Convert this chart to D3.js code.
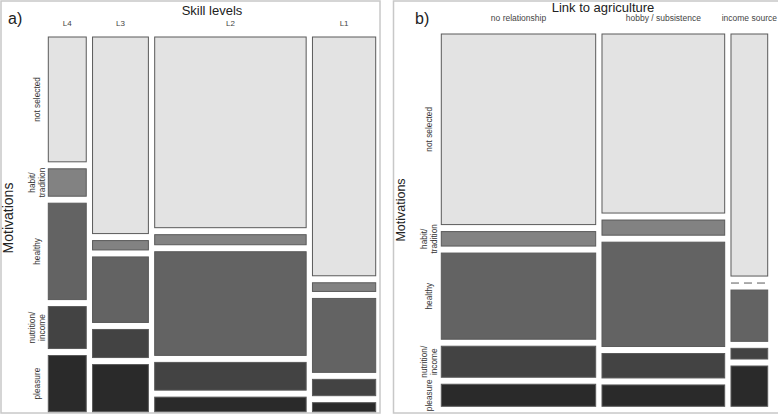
<!DOCTYPE html>
<html>
<head>
<meta charset="utf-8">
<script src="https://d3js.org/d3.v7.min.js"></script>
<style>
  body { margin: 0; background: #fff; }
  svg text { font-family: "Liberation Sans", Arial, sans-serif; fill: #222; }
  .cell { stroke: #5a5a5a; stroke-width: 1px; }
  .frame { fill: none; stroke: #c8c8c8; stroke-width: 1.5px; }
</style>
</head>
<body>
<svg id="chart" width="778" height="415"></svg>
<script>

// ---- data (shares, % within each column) ----
const motivations = ["not selected", "habit/ tradition", "healthy", "nutrition/ income", "pleasure"];
const fills = ["#e3e3e3", "#828282", "#636363", "#434343", "#2a2a2a"];

const skillLevels = ["L4", "L3", "L2", "L1"];
const skillWidths = [12.3, 18.1, 49.1, 20.5];       // share of respondents per level
const skillShares = [
  [36.0, 7.9, 27.8, 12.1, 16.2],   // L4
  [56.7, 2.7, 18.9, 8.1, 13.6],    // L3
  [55.0, 2.9, 29.9, 8.0, 4.2],     // L2
  [68.8, 2.5, 21.3, 4.7, 2.6]      // L1
];

const linkGroups = ["no relationship", "hobby / subsistence", "income source"];
const linkWidths = [49.2, 39.1, 11.7];
const linkShares = [
  [55.3, 4.2, 25.0, 9.0, 6.4],     // no relationship
  [52.0, 4.4, 30.3, 7.1, 6.2],     // hobby / subsistence
  [70.3, 0.0, 14.9, 3.1, 11.7]     // income source
];

const svg = d3.select("#chart");

// frames round the two panels
svg.append("rect").attr("class", "frame").attr("x", 1).attr("y", 1).attr("width", 379).attr("height", 412);
svg.append("rect").attr("class", "frame").attr("x", 393.5).attr("y", 1).attr("width", 400).attr("height", 412);

const drawMosaic = (cfg) => {
  const g = svg.append("g");
  const gapX = 6.3, gapY = 7;
  const nCol = cfg.cols.length, nRow = motivations.length;
  const contentW = (cfg.x1 - cfg.x0) - (nCol - 1) * gapX;
  const contentH = (cfg.y1 - cfg.y0) - (nRow - 1) * gapY;

  const xScale = d3.scaleLinear().domain([0, d3.sum(cfg.widths)]).range([0, contentW]);
  const yScale = d3.scaleLinear().domain([0, 100]).range([0, contentH]);

  let cumX = 0;
  let firstRowCenters = [];
  cfg.cols.forEach((col, i) => {
    const left = cfg.x0 + xScale(cumX) + i * gapX;
    const w = xScale(cfg.widths[i]);
    cumX += cfg.widths[i];

    // column label
    g.append("text").attr("x", left + w / 2).attr("y", cfg.colLabelY)
      .attr("text-anchor", "middle").style("font-size", cfg.colFont + "px").style("fill", "#444")
      .text(col);

    const vals = cfg.values[i];
    const tot = d3.sum(vals);
    let cumY = 0;
    vals.forEach((v, j) => {
      const top = cfg.y0 + yScale(cumY / tot * 100) + j * gapY;
      const h = yScale(v / tot * 100);
      cumY += v;
      if (i === 0) firstRowCenters.push(top + h / 2);
      if (v === 0) {
        // empty cell -> dashed line
        g.append("line").attr("x1", left).attr("x2", left + w)
          .attr("y1", top).attr("y2", top)
          .attr("stroke", "#5a5a5a").attr("stroke-dasharray", "8,5");
      } else {
        g.append("rect").attr("class", "cell")
          .attr("x", left).attr("y", top).attr("width", w).attr("height", h)
          .attr("fill", fills[j]);
      }
    });
  });

  // row labels (centred on the first column's cells)
  motivations.forEach((m, j) => {
    const lines = m.includes("/") ? m.split(" ") : [m];
    const t = g.append("text")
      .attr("transform", `translate(${cfg.rowLabelX},${firstRowCenters[j]}) rotate(-90)`)
      .attr("text-anchor", "middle").style("font-size", "8.3px").style("fill", "#333");
    lines.forEach((ln, k) => {
      t.append("tspan").attr("x", 0)
        .attr("dy", k === 0 ? (lines.length === 1 ? "0.35em" : "-0.2em") : "1.15em")
        .text(ln);
    });
  });

  // titles
  g.append("text").attr("x", cfg.titleX).attr("y", cfg.titleY).attr("text-anchor", "middle")
    .style("font-size", "13px").text(cfg.title);
  g.append("text").attr("x", cfg.tagX).attr("y", 24).style("font-size", "16px").text(cfg.tag);
  g.append("text")
    .attr("transform", `translate(${cfg.motX},${cfg.motY}) rotate(-90)`)
    .attr("text-anchor", "middle").attr("dy", "0.35em")
    .style("font-size", cfg.motFont + "px").text("Motivations");
};

drawMosaic({
  cols: skillLevels, widths: skillWidths, values: skillShares,
  x0: 48.3, x1: 375.7, y0: 37, y1: 411.7,
  colLabelY: 26, colFont: 8,
  rowLabelX: 37,
  title: "Skill levels", titleX: 212, titleY: 15,
  tag: "a)", tagX: 8,
  motX: 8, motY: 218, motFont: 14
});

drawMosaic({
  cols: linkGroups, widths: linkWidths, values: linkShares,
  x0: 441.3, x1: 767.7, y0: 34, y1: 406.3,
  colLabelY: 21, colFont: 8.5,
  rowLabelX: 429,
  title: "Link to agriculture", titleX: 603, titleY: 11.5,
  tag: "b)", tagX: 415,
  motX: 401, motY: 210, motFont: 12.5
});

</script>
</body>
</html>
